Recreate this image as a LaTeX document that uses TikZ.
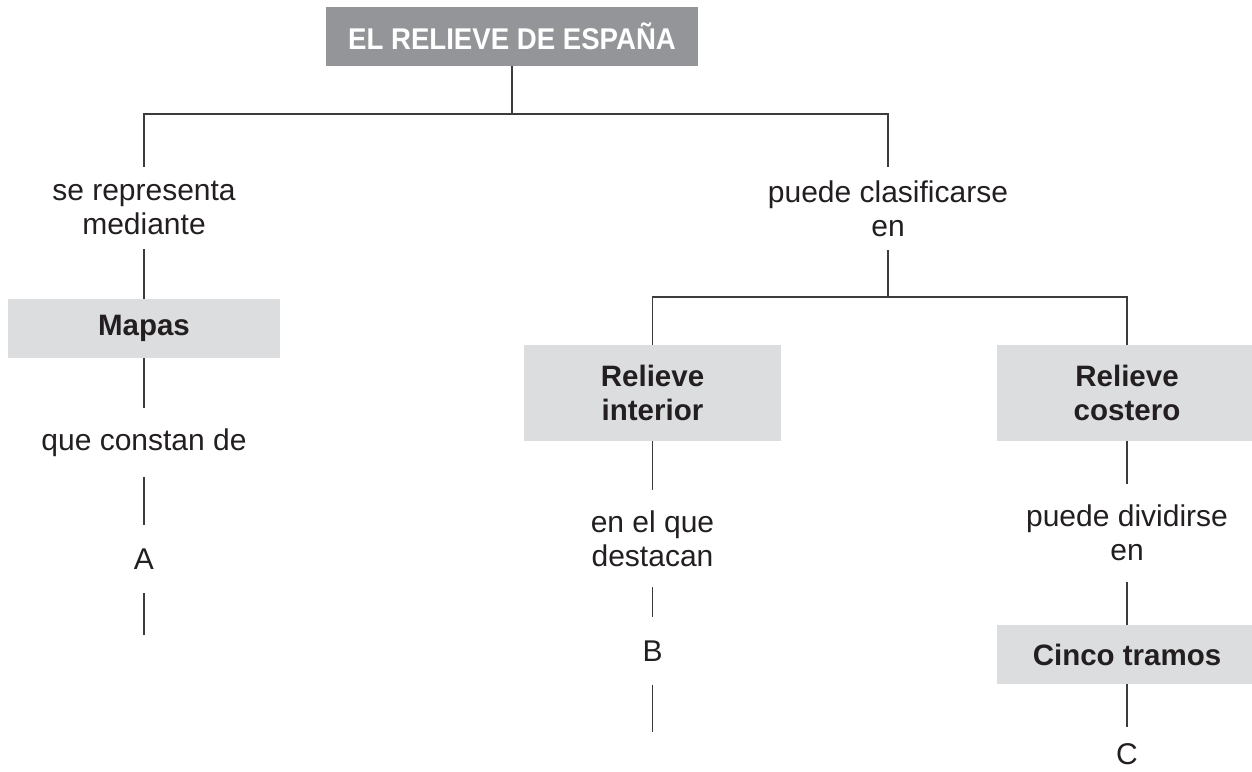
\documentclass[tikz,border=0pt]{standalone}
\usepackage{fontspec}
\setmainfont{Liberation Sans}
\definecolor{titlegray}{HTML}{939598}
\definecolor{boxgray}{HTML}{DCDDDF}
\definecolor{ink}{HTML}{231F20}
\definecolor{linegray}{HTML}{3C3C3C}
\begin{document}
\begin{tikzpicture}[x=1pt, y=-1pt,
  font=\fontsize{30}{34}\selectfont, text=ink,
  titlebox/.style={fill=titlegray, text=white, font=\fontsize{30}{34}\selectfont\bfseries,
    minimum width=372pt, minimum height=59pt, inner sep=0pt},
  conceptbox/.style={fill=boxgray, font=\fontsize{29.5}{34}\selectfont\bfseries,
    align=center, inner sep=0pt},
  linktext/.style={align=center, inner sep=0pt},
  connector/.style={draw=linegray, line width=1.4pt}]
\useasboundingbox (0,0) rectangle (1252,771);
\node[titlebox] (title) at (512,36.5) {\scalebox{0.92}[1]{EL RELIEVE DE ESPAÑA}};
\node[linktext, minimum height=82pt] (t1) at (144,208) {se representa\\mediante};
\node[linktext, minimum height=83pt] (t2) at (888,208.5) {puede clasificarse\\en};
\node[conceptbox, minimum width=272pt, minimum height=59pt] (mapas) at (144,328.5) {Mapas};
\node[linktext, minimum height=69pt] (t3) at (144,442.5) {que constan de};
\node[linktext, minimum height=68pt] (A) at (144,559) {A};
\node[conceptbox, minimum width=257pt, minimum height=96pt] (interior) at (652.5,393) {Relieve\\interior};
\node[linktext, minimum height=97pt] (t4) at (652.5,538.5) {en el que\\destacan};
\node[linktext, minimum height=68pt] (B) at (652.5,651) {B};
\node[conceptbox, minimum width=260pt, minimum height=96pt] (costero) at (1127,393) {Relieve\\costero};
\node[linktext, minimum height=98pt] (t5) at (1127,533) {puede dividirse\\en};
\node[conceptbox, minimum width=260pt, minimum height=59pt] (cinco) at (1127,654.5) {Cinco tramos};
\node[linktext] (C) at (1127,754) {C};
\coordinate (jtop) at (512,114);
\coordinate (jmid) at (888,297);
\coordinate (endA) at (144,635);
\coordinate (endB) at (652.5,732);
\draw[connector] (title.south) -- (jtop);
\draw[connector] (t1.north) |- (jtop) -| (t2.north);
\draw[connector] (t1.south) -- (mapas.north);
\draw[connector] (mapas.south) -- (t3.north);
\draw[connector] (t3.south) -- (A.north);
\draw[connector] (A.south) -- (endA);
\draw[connector] (t2.south) -- (jmid);
\draw[connector] (interior.north) |- (jmid) -| (costero.north);
\draw[connector] (interior.south) -- (t4.north);
\draw[connector] (t4.south) -- (B.north);
\draw[connector] (B.south) -- (endB);
\draw[connector] (costero.south) -- (t5.north);
\draw[connector] (t5.south) -- (cinco.north);
\draw[connector, shorten >=16pt] (cinco.south) -- (C.north);
\end{tikzpicture}
\end{document}
